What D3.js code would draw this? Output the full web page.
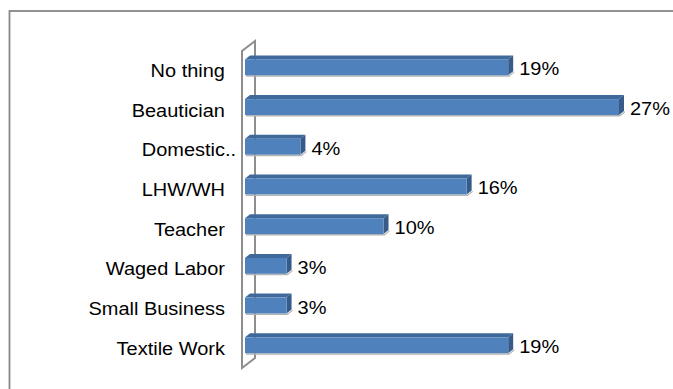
<!DOCTYPE html>
<html>
<head>
<meta charset="utf-8">
<script src="https://cdn.jsdelivr.net/npm/d3@7"></script>
<style>
  html, body { margin: 0; padding: 0; background: #ffffff; }
  svg { display: block; }
  text { font-family: "Liberation Sans", Arial, sans-serif; fill: #000; }
</style>
</head>
<body>
<svg id="chart" width="673" height="389"></svg>
<script>
// Occupation categories (top to bottom) and their shares in percent
const categories = ["No thing", "Beautician", "Domestic..", "LHW/WH", "Teacher", "Waged Labor", "Small Business", "Textile Work"];
const shares = [19, 27, 4, 16, 10, 3, 3, 19];
const shareLabels = ["19%", "27%", "4%", "16%", "10%", "3%", "3%", "19%"];

const svg = d3.select("#chart");
const W = 673, H = 389;

// Outer chart frame (runs off the right and bottom edges)
svg.append("rect")
  .attr("x", 9.5).attr("y", 11)
  .attr("width", W + 10).attr("height", H + 10)
  .attr("fill", "none").attr("stroke", "#878787").attr("stroke-width", 1.8);

const x = d3.scaleLinear().domain([0, 27]).range([245, 619]);
const y = d3.scaleBand().domain(categories).range([47.5, 365.1])
  .paddingInner(0.6).paddingOuter(0.3);

// 3D depth offsets
const wallDx = 13, wallDy = -10;
const barDx = 5, barDy = -4;

// Side wall of the 3D plot area
const wallX = 242, wallTop = 51, wallBottom = 368;
svg.append("path")
  .attr("d", `M${wallX},${wallBottom} L${wallX},${wallTop} L${wallX + wallDx},${wallTop + wallDy} L${wallX + wallDx},${wallBottom + wallDy} Z`)
  .attr("fill", "none").attr("stroke", "#8e8e8e").attr("stroke-width", 2);

// Bars
const bars = svg.append("g").selectAll("g.bar")
  .data(categories.map((c, i) => ({ c, v: shares[i], label: shareLabels[i] })))
  .join("g").attr("class", "bar");

bars.each(function (d) {
  const g = d3.select(this);
  const x0 = x(0), x1 = x(d.v);
  const y0 = y(d.c), h = y.bandwidth();
  // soft shadow
  g.append("path")
    .attr("d", `M${x0 + 1},${y0 + h} L${x1 + 1},${y0 + h} L${x1 + barDx + 1},${y0 + h + barDy} L${x1 + barDx + 1},${y0 + h + barDy + 1.5} L${x1 + 1},${y0 + h + 1.5} L${x0 + 1},${y0 + h + 1.5} Z`)
    .attr("fill", "#b4b4b4");
  // top face
  g.append("path")
    .attr("d", `M${x0},${y0} L${x1},${y0} L${x1 + barDx},${y0 + barDy} L${x0 + barDx},${y0 + barDy} Z`)
    .attr("fill", "#3f689b");
  // right face
  g.append("path")
    .attr("d", `M${x1},${y0} L${x1 + barDx},${y0 + barDy} L${x1 + barDx},${y0 + h + barDy} L${x1},${y0 + h} Z`)
    .attr("fill", "#375b88");
  // front face
  g.append("rect")
    .attr("x", x0).attr("y", y0)
    .attr("width", x1 - x0).attr("height", h)
    .attr("fill", "#4f81bd");
});

// Value labels
const fs = 18.5, sx = 1.08;
bars.append("text")
  .attr("transform", d => `translate(${x(d.v) + barDx + 6},${y(d.c) + y.bandwidth() / 2 + 8}) scale(${sx},1)`)
  .attr("font-size", fs)
  .text(d => d.label);

// Category labels (trailing dots hang past the alignment edge)
const labelRight = 225;
const catG = svg.append("g");
categories.forEach(c => {
  const main = c.replace(/\.+$/, "");
  const t = catG.append("text")
    .attr("font-size", fs)
    .text(main);
  const w = t.node().getComputedTextLength() * sx;
  t.text(c)
    .attr("transform", `translate(${labelRight - w},${y(c) + y.bandwidth() / 2 + 9.5}) scale(${sx},1)`);
});
</script>
</body>
</html>
